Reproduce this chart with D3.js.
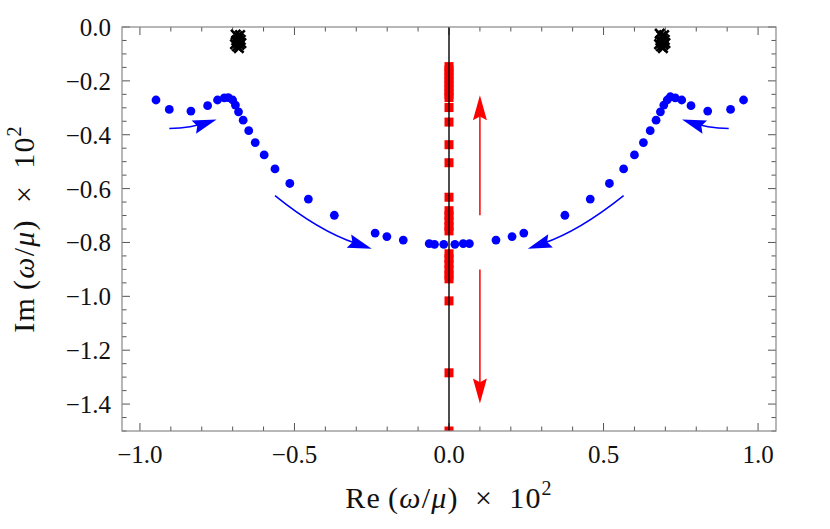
<!DOCTYPE html>
<html>
<head>
<meta charset="utf-8">
<script src="https://cdn.jsdelivr.net/npm/d3@7"></script>
<style>
  body { margin: 0; background: #fff; }
  text { font-family: "Liberation Serif", "Times New Roman", serif; fill: #111; }
</style>
</head>
<body>
<div id="wrapper"></div>
<script>
// blue quasinormal modes, [Re, Im]
const blueLeft = [[-0.948,-0.271],[-0.905,-0.306],[-0.835,-0.312],[-0.781,-0.292],[-0.749,-0.271],
  [-0.727,-0.263],[-0.714,-0.262],[-0.700,-0.271],[-0.691,-0.290],[-0.681,-0.315],[-0.666,-0.346],
  [-0.648,-0.385],[-0.627,-0.429],[-0.598,-0.475],[-0.563,-0.527],[-0.515,-0.581],[-0.455,-0.639],
  [-0.371,-0.699],[-0.239,-0.765],[-0.201,-0.778],[-0.148,-0.791],[-0.064,-0.804],[-0.047,-0.807],
  [-0.017,-0.807]];
const blueRight = [[0.019,-0.807],[0.046,-0.804],[0.066,-0.804],[0.152,-0.791],[0.204,-0.778],
  [0.242,-0.765],[0.375,-0.699],[0.457,-0.639],[0.519,-0.581],[0.565,-0.527],[0.600,-0.475],
  [0.629,-0.429],[0.651,-0.385],[0.670,-0.346],[0.684,-0.315],[0.695,-0.290],[0.706,-0.271],
  [0.716,-0.259],[0.732,-0.263],[0.753,-0.271],[0.783,-0.292],[0.837,-0.312],[0.911,-0.306],
  [0.953,-0.271]];
// red purely damped modes on the imaginary axis
const redIm = [-0.147,-0.160,-0.175,-0.190,-0.205,-0.220,-0.235,-0.250,-0.262,-0.299,-0.353,
  -0.437,-0.504,-0.632,-0.682,-0.700,-0.720,-0.740,-0.757,-0.842,-0.860,-0.880,-0.900,-0.920,
  -0.935,-1.017,-1.284,-1.500];
// black crosses near the real axis
const crossPts = [[-0.690,-0.028],[-0.684,-0.035],[-0.680,-0.042],[-0.676,-0.030],[-0.688,-0.050],
  [-0.682,-0.058],[-0.678,-0.066],[-0.686,-0.072],[-0.680,-0.078],[-0.672,-0.060],[-0.692,-0.064],
  [-0.674,-0.048],
  [0.682,-0.025],[0.688,-0.034],[0.692,-0.042],[0.696,-0.030],[0.684,-0.050],[0.690,-0.058],
  [0.694,-0.066],[0.686,-0.072],[0.692,-0.078],[0.700,-0.060],[0.680,-0.064],[0.698,-0.048]];
// arrows: start, control, tip
const blueArrows = [
  [[-0.905,-0.377],[-0.835,-0.375],[-0.752,-0.343]],
  [[0.905,-0.377],[0.835,-0.375],[0.754,-0.343]],
  [[-0.563,-0.626],[-0.422,-0.757],[-0.250,-0.823]],
  [[0.565,-0.626],[0.422,-0.757],[0.255,-0.823]]
];
const redArrows = [
  [[0.1,-0.699],[0.1,-0.253]],
  [[0.1,-0.900],[0.1,-1.398]]
];
const xTicks = [-1.0,-0.5,0.0,0.5,1.0];
const yTicks = [0.0,-0.2,-0.4,-0.6,-0.8,-1.0,-1.2,-1.4];

var dimension = {
  width: 830, height: 529,
  margin: { top: 27, right: 54, bottom: 98, left: 122 }
};
dimension.boundedWidth = dimension.width - dimension.margin.left - dimension.margin.right;
dimension.boundedHeight = dimension.height - dimension.margin.top - dimension.margin.bottom;

const svg = d3.select("#wrapper").append("svg")
  .attr("width", dimension.width)
  .attr("height", dimension.height);

const xScale = d3.scaleLinear().domain([-1.058, 1.058]).range([0, dimension.boundedWidth]);
const yScale = d3.scaleLinear().domain([-1.5, 0]).range([dimension.boundedHeight, 0]);

const g = svg.append("g")
  .attr("transform", `translate(${dimension.margin.left},${dimension.margin.top})`);

g.append("clipPath").attr("id", "clip")
  .append("rect").attr("width", dimension.boundedWidth).attr("height", dimension.boundedHeight);

// ticks, all inward, on four sides
const fmt = d => (d < 0 ? "\u2212" : "") + d3.format(".1f")(Math.abs(d));
const xMinor = d3.range(-10, 11).map(i => i / 10);
const yMinor = d3.range(0, 31).map(i => -i * 0.05);
const isMajorX = v => Math.abs(v * 2 - Math.round(v * 2)) < 1e-6;
const isMajorY = v => Math.abs(v * 5 - Math.round(v * 5)) < 1e-6;

const tickG = g.append("g").attr("stroke", "#555").attr("stroke-width", 1);
xMinor.forEach(v => {
  const len = isMajorX(v) ? 8 : 4.5;
  const x = xScale(v);
  tickG.append("line").attr("x1", x).attr("x2", x)
    .attr("y1", dimension.boundedHeight).attr("y2", dimension.boundedHeight - len);
  tickG.append("line").attr("x1", x).attr("x2", x).attr("y1", 0).attr("y2", len);
});
yMinor.forEach(v => {
  const len = isMajorY(v) ? 8 : 4.5;
  const y = yScale(v);
  tickG.append("line").attr("x1", 0).attr("x2", len).attr("y1", y).attr("y2", y);
  tickG.append("line").attr("x1", dimension.boundedWidth).attr("x2", dimension.boundedWidth - len)
    .attr("y1", y).attr("y2", y);
});

g.append("g").selectAll("text").data(xTicks).enter().append("text")
  .attr("x", d => xScale(d)).attr("y", dimension.boundedHeight + 32)
  .attr("text-anchor", "middle").style("font-size", "25px")
  .text(fmt);
g.append("g").selectAll("text").data(yTicks).enter().append("text")
  .attr("x", -11).attr("y", d => yScale(d) + 9)
  .attr("text-anchor", "end").style("font-size", "25px")
  .text(fmt);

const plot = g.append("g").attr("clip-path", "url(#clip)");

// red squares
plot.selectAll("rect.red").data(redIm).enter().append("rect")
  .attr("class", "red")
  .attr("x", xScale(0) - 4.5).attr("y", d => yScale(d) - 4.5)
  .attr("width", 9).attr("height", 9)
  .attr("fill", "#ff0000");

// imaginary axis
plot.append("line")
  .attr("x1", xScale(0)).attr("x2", xScale(0))
  .attr("y1", 0).attr("y2", dimension.boundedHeight)
  .attr("stroke", "#000").attr("stroke-width", 1.4);

// crosses
const cross = d3.symbol().type(d3.symbolX).size(60);
plot.selectAll("path.cross").data(crossPts).enter().append("path")
  .attr("class", "cross")
  .attr("transform", d => `translate(${xScale(d[0])},${yScale(d[1])})`)
  .attr("d", cross)
  .attr("fill", "none").attr("stroke", "#000").attr("stroke-width", 2.6);

// blue dots
plot.selectAll("circle.blue").data(blueLeft.concat(blueRight)).enter().append("circle")
  .attr("class", "blue")
  .attr("cx", d => xScale(d[0])).attr("cy", d => yScale(d[1]))
  .attr("r", 4.4).attr("fill", "#0000ff");

// arrow head: notched triangle pointing along (dx,dy)
function head(tx, ty, dx, dy, len, wid, color) {
  const n = Math.hypot(dx, dy), ux = dx / n, uy = dy / n, px = -uy, py = ux;
  const bx = tx - ux * len, by = ty - uy * len;
  const nx = tx - ux * len * 0.85, ny = ty - uy * len * 0.85;
  const p = d3.path();
  p.moveTo(tx, ty);
  p.lineTo(bx + px * wid / 2, by + py * wid / 2);
  p.lineTo(nx, ny);
  p.lineTo(bx - px * wid / 2, by - py * wid / 2);
  p.closePath();
  g.append("path").attr("d", p.toString()).attr("fill", color);
}

blueArrows.forEach(a => {
  const s = [xScale(a[0][0]), yScale(a[0][1])];
  const c = [xScale(a[1][0]), yScale(a[1][1])];
  const t = [xScale(a[2][0]), yScale(a[2][1])];
  const p = d3.path();
  p.moveTo(s[0], s[1]);
  p.quadraticCurveTo(c[0], c[1], t[0] - (t[0] - c[0]) * 0.3, t[1] - (t[1] - c[1]) * 0.3);
  g.append("path").attr("d", p.toString()).attr("fill", "none")
    .attr("stroke", "#0000ff").attr("stroke-width", 1.5);
  head(t[0], t[1], t[0] - c[0], t[1] - c[1], 24, 14, "#0000ff");
});

redArrows.forEach(a => {
  const s = [xScale(a[0][0]), yScale(a[0][1])];
  const t = [xScale(a[1][0]), yScale(a[1][1])];
  const dy = t[1] - s[1];
  g.append("line").attr("x1", s[0]).attr("x2", t[0])
    .attr("y1", s[1]).attr("y2", t[1] - Math.sign(dy) * 18)
    .attr("stroke", "#ff0000").attr("stroke-width", 1.5);
  head(t[0], t[1], t[0] - s[0], dy, 25, 14, "#ff0000");
});

// frame
g.append("rect").attr("width", dimension.boundedWidth).attr("height", dimension.boundedHeight)
  .attr("fill", "none").attr("stroke", "#888").attr("stroke-width", 1.2);

// axis titles
function title(sel, prefix) {
  sel.append("tspan").text(prefix + "\u2009(");
  sel.append("tspan").style("font-style", "italic").text("ω");
  sel.append("tspan").text("/");
  sel.append("tspan").style("font-style", "italic").text("μ");
  sel.append("tspan").text(")\u2002×\u200210");
  sel.append("tspan").attr("dy", -13).style("font-size", "20px").text("2");
}
title(svg.append("text")
  .attr("x", dimension.margin.left + xScale(0)).attr("y", 508)
  .attr("text-anchor", "middle").style("font-size", "30px").style("letter-spacing", "1.2px"), "Re");

title(svg.append("text")
  .attr("transform", `translate(34,${dimension.margin.top + dimension.boundedHeight / 2}) rotate(-90)`)
  .attr("text-anchor", "middle").style("font-size", "30px").style("letter-spacing", "1.2px"), "Im");
</script>
</body>
</html>
